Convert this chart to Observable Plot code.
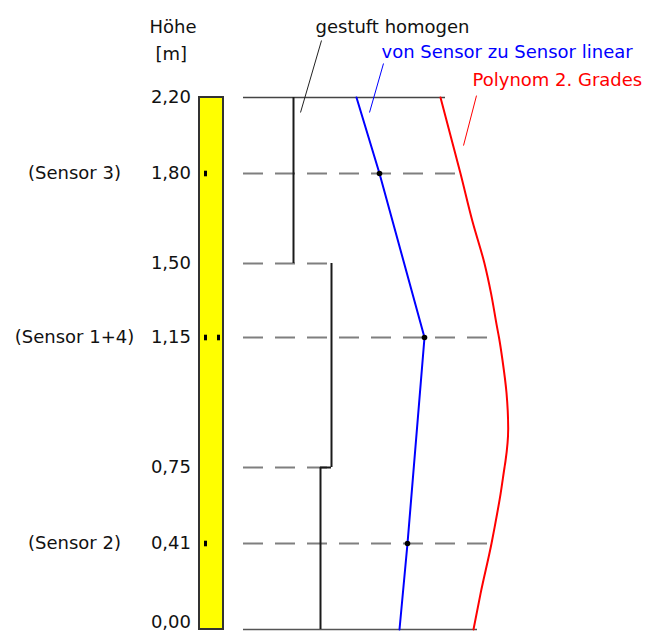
<!DOCTYPE html>
<html>
<head>
<meta charset="utf-8">
<script src="https://cdn.jsdelivr.net/npm/d3@7"></script>
<script src="https://cdn.jsdelivr.net/npm/@observablehq/plot@0.6"></script>
<style>
  html, body { margin: 0; padding: 0; background: #fff; }
  #chart svg { display: block; }
</style>
</head>
<body>
<div id="chart"></div>
<script>
// ---- data ----
const tickHeights = [0, 0.41, 0.75, 1.15, 1.5, 1.8, 2.2];
const tickLabels = ["0,00", "0,41", "0,75", "1,15", "1,50", "1,80", "2,20"];

const sensorNames = ["(Sensor 3)", "(Sensor 1+4)", "(Sensor 2)"];
const sensorHeights = [1.8, 1.15, 0.41];
const sensorCounts = [1, 2, 1];

// "gestuft homogen": one constant value per layer
const layerTops = [2.2, 1.5, 0.75];
const layerBottoms = [1.5, 0.75, 0];
const layerValues = [293, 331, 320];

// "von Sensor zu Sensor linear"
const linearHeights = [2.2, 1.8, 1.15, 0.41, 0];
const linearValues = [356, 379, 424, 407, 399];

// "Polynom 2. Grades"
const polyHeights = [2.2, 2.0, 1.8, 1.64, 1.5, 1.36, 1.2, 1.15, 1.08, 0.98, 0.87, 0.77, 0.75, 0.63, 0.48, 0.41, 0.17, 0];
const polyValues  = [440, 450, 460, 472, 484, 490.5, 496.5, 498.5, 502, 506, 507.7, 505, 504, 500, 494, 491, 480, 473];

const axisTitle = ["Höhe", "[m]"];
const annotations = ["gestuft homogen", "von Sensor zu Sensor linear", "Polynom 2. Grades"];

// ---- derived tables ----
const sensors = sensorNames.map((name, i) => ({name, h: sensorHeights[i], n: sensorCounts[i]}));
const layers = layerValues.map((v, i) => ({v, top: layerTops[i], bottom: layerBottoms[i]}));
const linear = linearHeights.map((h, i) => ({h, v: linearValues[i]}));
const poly = polyHeights.map((h, i) => ({h, v: polyValues[i]}));
const polyAt = h => polyValues[polyHeights.indexOf(h)];
const ticks = tickHeights.map((h, i) => ({h, label: tickLabels[i]}));

const guideStart = 243;
const dashed = [
  ...sensorHeights.map(h => ({h, end: polyAt(h)})),
  {h: layerBottoms[0], end: layerValues[1]},
  {h: layerBottoms[1], end: layerValues[1]}
];
const solid = [
  {h: 2.2, end: polyAt(2.2) + 5, c: "#444"},
  {h: 0, end: polyAt(0) + 4, c: "#555"}
];

const sensorMark = {draw(ctx) { ctx.rect(-1.5, -2.8, 3, 5.6); }};
const font = "DejaVu Sans";
const txt = {fontSize: 18, fill: "#111"};

const chart = Plot.plot({
  width: 651,
  height: 632,
  margin: 0,
  style: {fontFamily: font, fontSize: "18px", background: "#fff"},
  x: {type: "linear", domain: [0, 651], axis: null},
  y: {type: "linear", domain: tickHeights, range: [629, 543, 467, 337, 263, 173, 97], axis: null},
  marks: [
    // guide lines
    Plot.ruleY(dashed, {y: "h", x1: guideStart, x2: "end", stroke: "#7f7f7f", strokeWidth: 2, strokeDasharray: "20,12"}),
    Plot.ruleY(solid, {y: "h", x1: guideStart, x2: "end", stroke: "c", strokeWidth: 1.6}),
    // stepped homogeneous profile
    Plot.ruleX(layers, {x: "v", y1: "bottom", y2: "top", stroke: "#1a1a1a", strokeWidth: 2}),
    Plot.ruleY([layerBottoms[1]], {y: d => d, x1: layerValues[2], x2: layerValues[1], stroke: "#1a1a1a", strokeWidth: 2}),
    // linear sensor-to-sensor profile
    Plot.line(linear, {x: "v", y: "h", stroke: "#0000ff", strokeWidth: 2}),
    Plot.dot(linear.filter(d => sensorHeights.includes(d.h)), {x: "v", y: "h", r: 2.8, fill: "#000", stroke: "none"}),
    // polynomial profile
    Plot.line(poly, {x: "v", y: "h", stroke: "#ff0000", strokeWidth: 2, curve: "monotone-y"}),
    // sensor column
    Plot.rect([0], {x1: 199, x2: 223, y1: 0, y2: 2.2, fill: "#ffff00", stroke: "#333", strokeWidth: 2}),
    Plot.dot(sensors, {x: 205, y: "h", symbol: sensorMark, fill: "#000", stroke: "none"}),
    Plot.dot(sensors.filter(d => d.n > 1), {x: 218, y: "h", symbol: sensorMark, fill: "#000", stroke: "none"}),
    // tick labels (the lowest one lifted slightly so it stays inside the picture)
    Plot.text(ticks.filter(d => d.h > 0), {x: 190.5, y: "h", text: "label", textAnchor: "end", ...txt}),
    Plot.text(ticks.filter(d => d.h === 0), {x: 190.5, y: "h", text: "label", textAnchor: "end", dy: -7, ...txt}),
    Plot.text(sensors, {x: 74, y: "h", text: "name", textAnchor: "middle", ...txt}),
    // axis title
    Plot.text([axisTitle[0]], {x: 149, y: 2.537, text: d => d, textAnchor: "start", lineAnchor: "bottom", ...txt}),
    Plot.text([axisTitle[1]], {x: 155, y: 2.40, text: d => d, textAnchor: "start", lineAnchor: "bottom", ...txt}),
    // annotations + leaders
    Plot.text([annotations[0]], {x: 315, y: 2.542, text: d => d, textAnchor: "start", lineAnchor: "bottom", ...txt}),
    Plot.link([0], {x1: 321, y1: 2.50, x2: 300, y2: 2.121, stroke: "#222", strokeWidth: 1}),
    Plot.text([annotations[1]], {x: 381, y: 2.4105, text: d => d, textAnchor: "start", lineAnchor: "bottom", fontSize: 18, fill: "#0000ff"}),
    Plot.link([0], {x1: 383, y1: 2.379, x2: 369, y2: 2.121, stroke: "#0000ff", strokeWidth: 1}),
    Plot.text([annotations[2]], {x: 472, y: 2.263, text: d => d, textAnchor: "start", lineAnchor: "bottom", fontSize: 18, fill: "#ff0000"}),
    Plot.link([0], {x1: 476, y1: 2.21, x2: 463, y2: 1.947, stroke: "#ff0000", strokeWidth: 1})
  ]
});
document.getElementById("chart").appendChild(chart);
</script>
</body>
</html>
